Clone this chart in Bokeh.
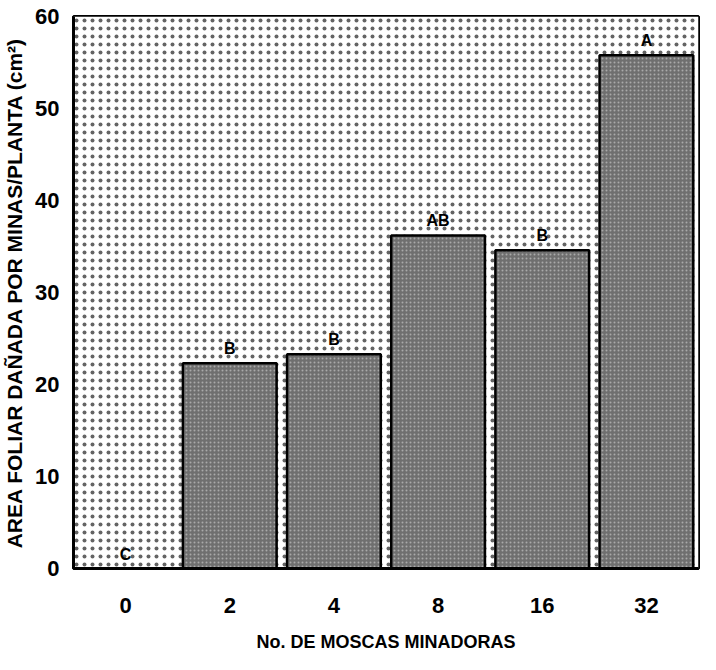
from bokeh.plotting import figure
from bokeh.models import ColumnDataSource, BoxAnnotation, Range1d, FixedTicker
from bokeh.core.properties import value
from bokeh.embed import file_html
from bokeh.resources import INLINE

moscas = ["0", "2", "4", "8", "16", "32"]
area = [0.0, 22.3, 23.3, 36.2, 34.6, 55.8]
letras = ["C", "B", "B", "AB", "B", "A"]
y_ticks = [0, 10, 20, 30, 40, 50, 60]

FONT = "Liberation Sans"

src = ColumnDataSource(dict(x=moscas, y=area, lab=letras))

p = figure(x_range=moscas, y_range=Range1d(0, 60), width=700, height=654,
           output_backend="svg", toolbar_location=None,
           min_border_left=70, min_border_top=16, min_border_right=2,
           min_border_bottom=79)

# dotted background
bg = BoxAnnotation(fill_color="white", fill_alpha=1.0, line_color=None,
                   hatch_pattern="dot", hatch_color="#222222", hatch_scale=8,
                   hatch_weight=1.4, hatch_alpha=0.7, level="underlay")
p.add_layout(bg)

p.vbar(x="x", top="y", width=0.9, source=src, fill_color="#6f6f6f",
       line_color="black", line_width=2.5,
       hatch_pattern="dot", hatch_color="#d8d8d8", hatch_scale=4,
       hatch_weight=1.2, hatch_alpha=0.55)

p.text(x="x", y="y", text="lab", source=src, text_align="center",
       text_baseline="bottom", y_offset=-6, text_font=value(FONT),
       text_font_style="bold", text_font_size="16px", text_color="black")

p.xgrid.grid_line_color = None
p.ygrid.grid_line_color = None
p.outline_line_color = "black"
p.outline_line_width = 3
p.background_fill_color = "white"
p.border_fill_color = "white"

p.yaxis.ticker = FixedTicker(ticks=y_ticks)
for ax in (p.xaxis[0], p.yaxis[0]):
    ax.axis_line_color = "black"
    ax.axis_line_width = 3
    ax.major_tick_line_color = None
    ax.minor_tick_line_color = None
    ax.major_label_text_font = FONT
    ax.major_label_text_font_style = "bold"
    ax.major_label_text_font_size = "22px"
    ax.major_label_text_color = "black"
    ax.axis_label_text_font = FONT
    ax.axis_label_text_font_style = "bold"
    ax.axis_label_text_color = "black"

p.xaxis.axis_label_text_font_size = "18px"
p.yaxis.axis_label_text_font_size = "21px"
p.xaxis.major_label_standoff = 23
p.yaxis.major_label_standoff = 8
p.xaxis.axis_label = "No. DE MOSCAS MINADORAS"
p.yaxis.axis_label = "AREA FOLIAR DAÑADA POR MINAS/PLANTA (cm²)"
p.xaxis.axis_label_standoff = 16
p.yaxis.axis_label_standoff = 6

open("out.html", "w").write(file_html(p, INLINE))
